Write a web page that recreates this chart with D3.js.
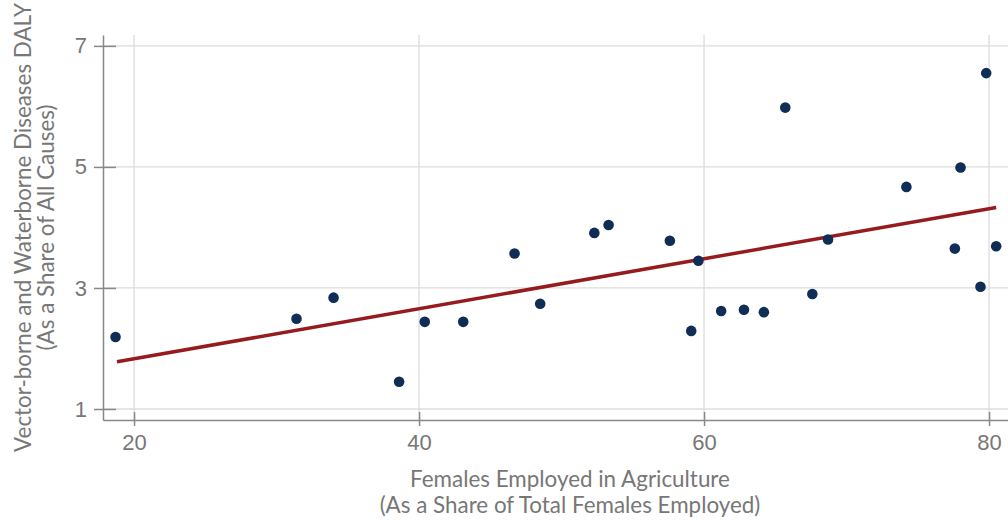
<!DOCTYPE html>
<html>
<head>
<meta charset="utf-8">
<script src="https://cdn.jsdelivr.net/npm/d3@7"></script>
<style>
  html, body { margin: 0; padding: 0; background: #fff; }
  svg { display: block; font-family: Lato, "Open Sans", sans-serif; }
</style>
</head>
<body>
<div class="container"></div>
<script>
// female share employed in agriculture (x) vs vector/waterborne DALY share (y)
const agriShare = [18.7, 31.4, 34.0, 38.6, 40.4, 43.1, 48.5, 46.7, 52.3, 53.3, 57.6, 59.1, 59.6,
  61.2, 62.8, 64.2, 65.7, 67.6, 68.7, 74.2, 77.6, 78.0, 79.4, 79.8, 80.5];
const dalyShare = [2.19, 2.49, 2.84, 1.45, 2.44, 2.44, 2.74, 3.57, 3.91, 4.04, 3.78, 2.29, 3.45,
  2.62, 2.64, 2.60, 5.98, 2.90, 3.80, 4.67, 3.65, 4.99, 3.02, 6.55, 3.69];

// fitted trend line, end points
const fitX = [18.8, 80.5];
const fitY = [1.78, 4.33];

const xTicks = [20, 40, 60, 80];
const yTicks = [1, 3, 5, 7];
const xDomain = [17.82, 81.33];
const yDomain = [0.818, 7.18];

const xTitle = ["Females Employed in Agriculture", "(As a Share of Total Females Employed)"];
const yTitle = ["Vector-borne and Waterborne Diseases DALY", "(As a Share of All Causes)"];

const width = 1008;
const height = 520;
const margin = { top: 35, right: 0, bottom: 100, left: 103 };

const textColor = "#777";
const axisColor = "#888";
const gridColor = "#dcdcdc";

const svg = d3.select(".container").append("svg")
  .attr("width", width)
  .attr("height", height);

const x = d3.scaleLinear()
  .domain(xDomain)
  .range([margin.left, width - margin.right]);

const y = d3.scaleLinear()
  .domain(yDomain)
  .range([height - margin.bottom, margin.top]);

const bottomY = height - margin.bottom;

// grid
svg.append("g")
  .selectAll("line")
  .data(xTicks)
  .enter()
  .append("line")
  .attr("x1", d => x(d)).attr("x2", d => x(d))
  .attr("y1", margin.top).attr("y2", bottomY)
  .attr("stroke", gridColor)
  .attr("stroke-width", 1.3);

svg.append("g")
  .selectAll("line")
  .data(yTicks)
  .enter()
  .append("line")
  .attr("x1", margin.left).attr("x2", width - margin.right)
  .attr("y1", d => y(d)).attr("y2", d => y(d))
  .attr("stroke", gridColor)
  .attr("stroke-width", 1.3);

// axes
const xAxis = svg.append("g")
  .attr("transform", `translate(0,${bottomY})`)
  .call(d3.axisBottom(x).tickValues(xTicks).tickFormat(d3.format("d"))
    .tickSize(6).tickSizeOuter(0).tickPadding(8));

const yAxis = svg.append("g")
  .attr("transform", `translate(${margin.left},0)`)
  .call(d3.axisLeft(y).tickValues(yTicks).tickFormat(d3.format("d"))
    .tickSize(9).tickSizeOuter(0).tickPadding(7));

[xAxis, yAxis].forEach(g => {
  g.select(".domain").attr("stroke", axisColor).attr("stroke-width", 1.5);
  g.selectAll(".tick line").attr("stroke", axisColor).attr("stroke-width", 1.5);
  g.selectAll(".tick text")
    .attr("fill", textColor)
    .style("font-size", "22px");
});

// ticks also reach inside the plot
xAxis.selectAll(".tick").append("line")
  .attr("y2", -8).attr("stroke", axisColor).attr("stroke-width", 1.5);
yAxis.selectAll(".tick").append("line")
  .attr("x2", 13).attr("stroke", axisColor).attr("stroke-width", 1.5);

// trend line
const fit = fitX.map((d, i) => ({ x: d, y: fitY[i] }));
svg.append("path")
  .datum(fit)
  .attr("fill", "none")
  .attr("stroke", "#961b1f")
  .attr("stroke-width", 3.5)
  .attr("d", d3.line().x(d => x(d.x)).y(d => y(d.y)));

// points
const points = agriShare.map((d, i) => ({ x: d, y: dalyShare[i] }));
svg.append("g")
  .selectAll("circle")
  .data(points)
  .enter()
  .append("circle")
  .attr("cx", d => x(d.x))
  .attr("cy", d => y(d.y))
  .attr("r", 5.3)
  .attr("fill", "#0f2d55");

// titles
svg.append("text")
  .attr("text-anchor", "middle")
  .attr("fill", textColor)
  .style("font-size", "22.4px")
  .selectAll("tspan")
  .data(xTitle)
  .enter()
  .append("tspan")
  .attr("x", 570)
  .attr("y", (d, i) => 487 + i * 26)
  .text(d => d);

svg.append("text")
  .attr("text-anchor", "middle")
  .attr("transform", `translate(0,${(margin.top + bottomY) / 2}) rotate(-90)`)
  .attr("fill", textColor)
  .style("font-size", "22.4px")
  .selectAll("tspan")
  .data(yTitle)
  .enter()
  .append("tspan")
  .attr("x", 0)
  .attr("y", (d, i) => 31 + i * 23)
  .text(d => d);
</script>
</body>
</html>
